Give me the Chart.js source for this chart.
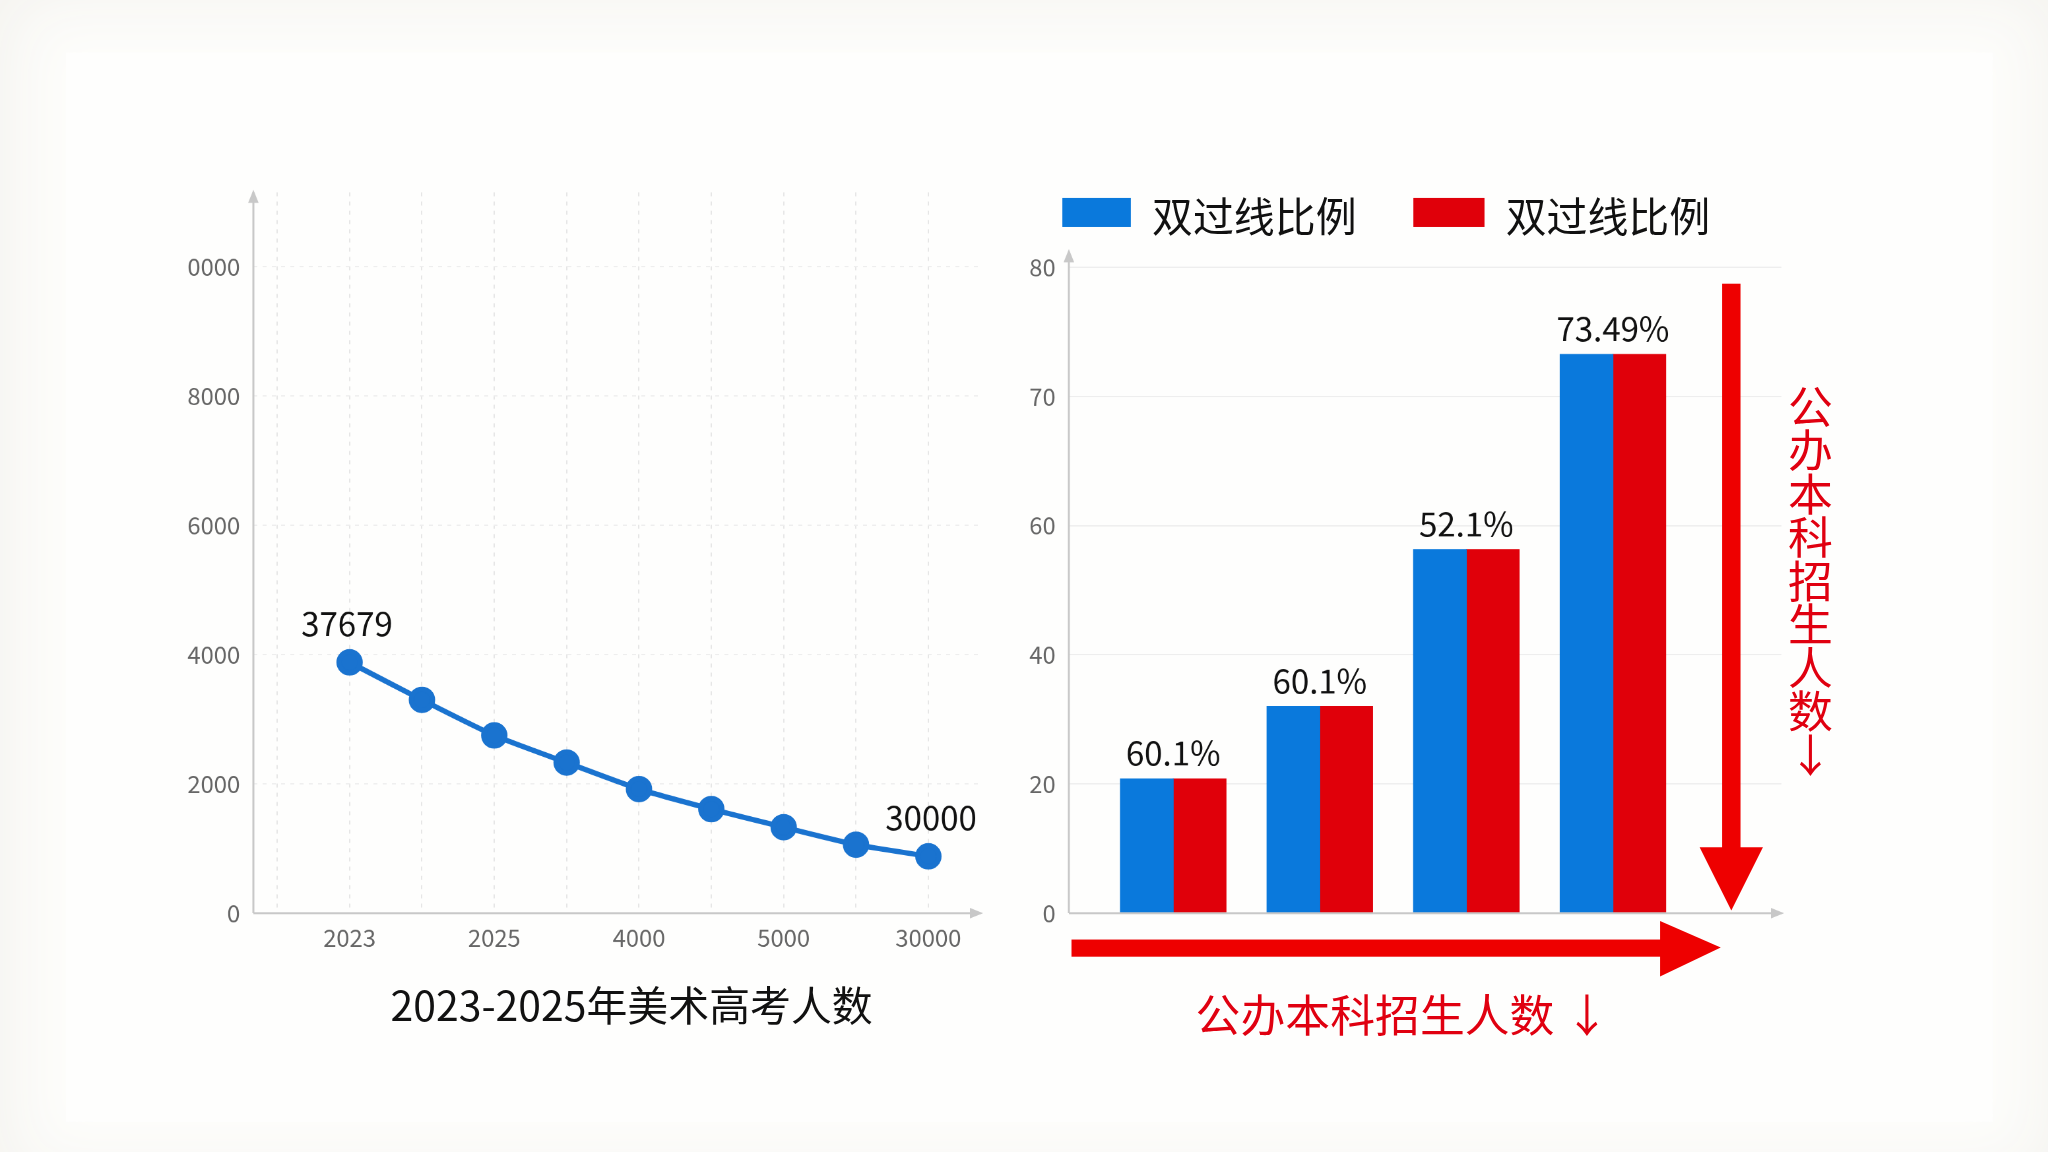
<!DOCTYPE html>
<html><head><meta charset="utf-8">
<script src="https://cdn.jsdelivr.net/npm/chart.js@4"></script>
<style>
html,body{margin:0;padding:0;background:#f4f3ef;overflow:hidden}
#wrap{position:absolute;left:0;top:0;width:1552px;height:873px;transform:scale(1.31959);transform-origin:0 0;font-family:"Noto Sans CJK SC","Noto Sans",sans-serif}
#card{position:absolute;left:50px;top:40px;width:1460px;height:810px;background:#fefefd;box-shadow:0 0 50px 40px #fdfdfb}
.c{position:absolute}
.t{position:absolute;white-space:nowrap}
</style></head><body>
<div id="wrap">
<div id="card"></div>
<div class="c" style="left:120px;top:125px;width:635px;height:607px"><canvas id="l"></canvas></div>
<div class="c" style="left:740px;top:170px;width:620px;height:562px"><canvas id="r"></canvas></div>
<div class="t" style="left:296px;top:738px;font-size:31px;color:#111">2023-2025年美术高考人数</div>
<div class="t" style="left:805px;top:150px;width:52px;height:22px;background:#0a79dc"></div>
<div class="t" style="left:873px;top:140px;font-size:31px;color:#111">双过线比例</div>
<div class="t" style="left:1071px;top:150px;width:54px;height:22px;background:#e0000a"></div>
<div class="t" style="left:1141px;top:140px;font-size:31px;color:#111">双过线比例</div>
<div class="t" style="left:906px;top:743px;font-size:34px;color:#e00010">公办本科招生人数 ↓</div>
<div class="t" style="left:1352px;top:290px;font-size:34px;line-height:33px;width:40px;color:#e00010;white-space:normal;text-align:center">公办本科招生人数↓</div>
<svg class="t" style="left:0;top:0" width="1552" height="873">
<rect x="812" y="712" width="450" height="13" fill="#ee0000"/>
<polygon points="1258,698 1304,718 1258,740" fill="#ee0000"/>
<rect x="1305" y="215" width="14" height="430" fill="#ee0000"/>
<polygon points="1288,642 1336,642 1312,690" fill="#ee0000"/>
</svg>
</div>
<script>
const lineX=[0,1,2,3,4,5,6,7,8];
const lineVals=[3880,3300,2750,2330,1920,1610,1330,1060,880];
const lineTickLabels={0:'2023',2:'2025',4:'4000',6:'5000',8:'30000'};
const lineLabels={0:'37679',8:'30000'};
const barCats=[0,1,2,3];
// values in the axis's evenly spaced units (tick positions 0..100 labelled 0,20,40,60,70,80)
const blueVals=[20.8,32.0,56.3,86.5];
const redVals=[20.8,32.0,56.3,86.5];
const barTickPos=[0,20,40,60,80,100];
const barTickLabels=['0','20','40','60','70','80'];
const barLabels=['60.1%','60.1%','52.1%','73.49%'];
const F='"Noto Sans CJK SC","Noto Sans",sans-serif';
Chart.defaults.font.family=F;
const arrows={id:'arr',afterDraw(c){const x=c.ctx,a=c.chartArea;x.save();x.strokeStyle='#c8c8c8';x.fillStyle='#c8c8c8';x.lineWidth=1.5;
x.beginPath();x.moveTo(a.left,a.bottom);x.lineTo(a.left,a.top);x.moveTo(a.left,a.bottom);x.lineTo(a.right,a.bottom);x.stroke();
x.beginPath();x.moveTo(a.left-4,a.top+8);x.lineTo(a.left,a.top-2);x.lineTo(a.left+4,a.top+8);x.fill();
x.beginPath();x.moveTo(a.right-8,a.bottom-4);x.lineTo(a.right+2,a.bottom);x.lineTo(a.right-8,a.bottom+4);x.fill();x.restore();}};
new Chart(document.getElementById('l'),{type:'line',
data:{datasets:[{data:lineX.map((x,i)=>({x,y:lineVals[i]})),borderColor:'#1a73cf',backgroundColor:'#1a73cf',borderWidth:4,pointRadius:8,tension:0.2}]},
options:{responsive:true,maintainAspectRatio:false,devicePixelRatio:2,animation:false,layout:{padding:{right:10}},
plugins:{legend:{display:false},tooltip:{enabled:false}},
scales:{x:{type:'linear',min:-1.33,max:8.72,afterBuildTicks(s){s.ticks=[-1,0,1,2,3,4,5,6,7,8].map(v=>({value:v}))},
ticks:{callback:v=>lineTickLabels[v]||'',color:'#666',font:{size:18},padding:8,autoSkip:false},grid:{color:'#e6e6e6',drawTicks:false},border:{display:false,dash:[3,4]},afterFit(s){s.height=40}},
y:{min:0,max:11150,afterBuildTicks(s){s.ticks=[0,2000,4000,6000,8000,10000].map(v=>({value:v}))},
ticks:{callback:v=>v===10000?'0000':String(v),color:'#666',font:{size:18},padding:10},grid:{color:'#eee',drawTicks:false},border:{display:false,dash:[3,4]},afterFit(s){s.width=72}}}},
plugins:[arrows,{id:'lbl',afterDatasetsDraw(c){const x=c.ctx,m=c.getDatasetMeta(0);x.save();x.font='25px '+F;x.fillStyle='#111';x.textAlign='center';
for(const k in lineLabels){const p=m.data[k];x.fillText(lineLabels[k],p.x-(k==0?2:-2),p.y-20);}x.restore();}}]});
new Chart(document.getElementById('r'),{type:'bar',
data:{datasets:[{data:barCats.map((x,i)=>({x,y:blueVals[i]})),backgroundColor:'#0a79dc',barThickness:40},
{data:barCats.map((x,i)=>({x,y:redVals[i]})),backgroundColor:'#e0000a',barThickness:40}]},
options:{responsive:true,maintainAspectRatio:false,devicePixelRatio:2,animation:false,layout:{padding:{right:10}},
plugins:{legend:{display:false},tooltip:{enabled:false}},
scales:{x:{type:'linear',offset:false,min:-0.712,max:4.15,ticks:{display:false},grid:{display:false},border:{display:false},afterFit(s){s.height=40}},
y:{min:0,max:102.4,afterBuildTicks(s){s.ticks=barTickPos.map(v=>({value:v}))},
ticks:{callback:(v)=>barTickLabels[barTickPos.indexOf(v)],color:'#666',font:{size:18},padding:10},grid:{color:'#eee',drawTicks:false},border:{display:false},afterFit(s){s.width=70}}}},
plugins:[arrows,{id:'bl',afterDatasetsDraw(c){const x=c.ctx,m=c.getDatasetMeta(0);x.save();x.font='25px '+F;x.fillStyle='#111';x.textAlign='center';
m.data.forEach((p,i)=>x.fillText(barLabels[i],p.x+20,p.y-10));x.restore();}}]});
</script></body></html>
